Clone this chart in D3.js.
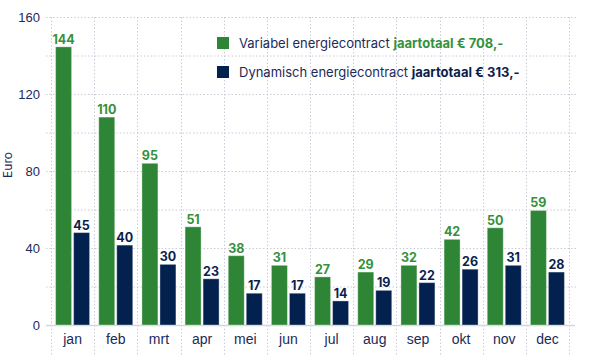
<!DOCTYPE html>
<meta charset="utf-8">
<style>
    body { margin: 0; background: #fff; }
    svg { font-family: Inter, "Open Sans", sans-serif; }
    .grid line { stroke: #c9ccd8; stroke-dasharray: 1.5,2; stroke-width: 1; }
    .tick text { fill: #1b2a58; font-size: 13px; }
    .x-axis .tick text { font-size: 14px; }
    .label { font-size: 12.5px; font-weight: 700; text-anchor: middle; }
</style>
<body>
<script src="https://cdn.jsdelivr.net/npm/d3@7"></script>
<script>

    var months = ["jan", "feb", "mrt", "apr", "mei", "jun", "jul", "aug", "sep", "okt", "nov", "dec"];
    // bar heights as drawn
    var variabel = [144.5, 108, 84, 51, 36, 31, 25, 27.5, 31, 44.5, 50.5, 59.5];
    var dynamisch = [48, 41.5, 31.5, 24, 16.5, 16.5, 12.5, 18, 22, 29, 31, 27.5];
    // value labels as printed
    var variabelLabels = [144, 110, 95, 51, 38, 31, 27, 29, 32, 42, 50, 59];
    var dynamischLabels = [45, 40, 30, 23, 17, 17, 14, 19, 22, 26, 31, 28];
    var yTicks = [0, 40, 80, 120, 160];
    var yGrid = [20, 40, 60, 80, 100, 120, 140, 160];

    var green = "#2e8535", navy = "#03214f";

    var margin = {top: 17, right: 29, bottom: 36, left: 51},
        width = 598 - margin.left - margin.right,
        height = 361 - margin.top - margin.bottom;

    var x = d3.scaleBand().domain(months).range([0, width]).paddingInner(0).paddingOuter(0);
    var y = d3.scaleLinear().domain([0, 160]).range([height, 0]);

    var svg = d3.select("body").append("svg")
            .attr("width", 598)
            .attr("height", 361)
        .append("g")
            .attr("transform", "translate(" + margin.left + "," + margin.top + ")");

    // horizontal grid
    svg.append("g").attr("class", "grid")
        .selectAll("line").data(yGrid).enter().append("line")
            .attr("x1", -5).attr("x2", width + 7)
            .attr("y1", function(d) { return y(d) + 0.5; })
            .attr("y2", function(d) { return y(d) + 0.5; });

    // vertical grid at band edges
    var edges = months.map(function(m) { return x(m); }).concat([width]);
    svg.append("g").attr("class", "grid")
        .selectAll("line").data(edges).enter().append("line")
            .attr("x1", function(d) { return Math.round(d) + 0.5; })
            .attr("x2", function(d) { return Math.round(d) + 0.5; })
            .attr("y1", 0).attr("y2", height + 30);

    // baseline
    svg.append("line")
        .attr("x1", -5).attr("x2", width + 6)
        .attr("y1", y(0) + 0.5).attr("y2", y(0) + 0.5)
        .attr("stroke", "#d3d6df").attr("stroke-width", 1.5);

    var bw = 16, gap = 2, off = (x.bandwidth() - 2 * bw - gap) / 2;

    var series = [
        {values: variabel, labels: variabelLabels, color: green, labelColor: "#35913b", dx: off},
        {values: dynamisch, labels: dynamischLabels, color: navy, labelColor: "#0b1f4e", dx: off + bw + gap}
    ];

    series.forEach(function(s) {
        var g = svg.append("g");
        g.selectAll("rect").data(s.values).enter().append("rect")
            .attr("x", function(d, i) { return x(months[i]) + s.dx; })
            .attr("y", function(d) { return y(d); })
            .attr("width", bw)
            .attr("height", function(d) { return y(0) - y(d); })
            .attr("fill", s.color)
            .attr("stroke", "#ffffff")
            .attr("stroke-opacity", 0.35)
            .attr("stroke-width", 1);
        g.selectAll("text").data(s.labels).enter().append("text")
            .attr("class", "label")
            .attr("x", function(d, i) { return x(months[i]) + s.dx + bw / 2; })
            .attr("y", function(d, i) { return y(s.values[i]) - 3; })
            .attr("fill", s.labelColor)
            .text(function(d) { return d; });
    });

    // axes
    var yAxis = svg.append("g")
        .call(d3.axisLeft(y).tickValues(yTicks).tickSize(0).tickPadding(11));
    yAxis.select(".domain").remove();

    var xAxis = svg.append("g")
        .attr("class", "x-axis")
        .attr("transform", "translate(0," + height + ")")
        .call(d3.axisBottom(x).tickSize(0).tickPadding(9));
    xAxis.select(".domain").remove();

    svg.append("text")
        .attr("transform", "translate(" + (-margin.left + 12) + "," + (y(80) - 6) + ") rotate(-90)")
        .attr("text-anchor", "middle")
        .attr("fill", "#1b2a58")
        .style("font-size", "12px")
        .text("Euro");

    // legend
    var legend = [
        {name: "Variabel energiecontract ", total: "jaartotaal € 708,-", color: green, totalColor: "#35913b"},
        {name: "Dynamisch energiecontract ", total: "jaartotaal € 313,-", color: navy, totalColor: "#0b1f4e"}
    ];
    var lg = svg.selectAll(".legend").data(legend).enter().append("g")
        .attr("transform", function(d, i) { return "translate(166," + (20 + i * 29) + ")"; });
    lg.append("rect").attr("width", 12).attr("height", 12).attr("fill", function(d) { return d.color; });
    var lt = lg.append("text").attr("x", 22).attr("y", 10.5)
        .style("font-size", "13px").attr("fill", "#1b2a58");
    lt.append("tspan").text(function(d) { return d.name; });
    lt.append("tspan").style("font-weight", 700)
        .attr("fill", function(d) { return d.totalColor; })
        .text(function(d) { return d.total; });

</script>
